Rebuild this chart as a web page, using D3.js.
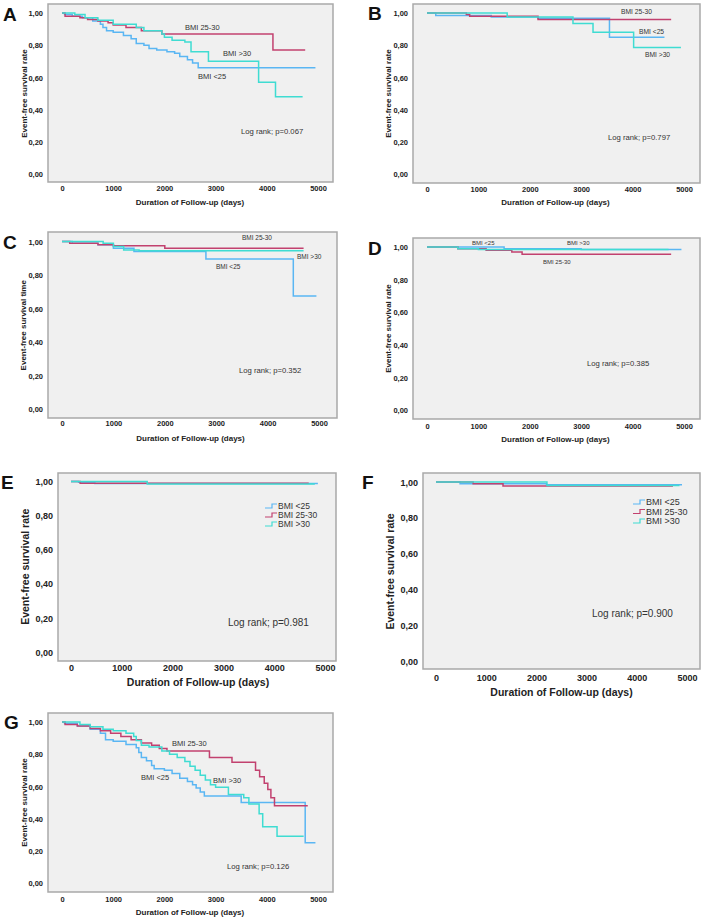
<!DOCTYPE html>
<html>
<head>
<meta charset="utf-8">
<script src="https://cdn.jsdelivr.net/npm/d3@7"></script>
<style>
  body { margin: 0; background: #fff; }
  svg { display: block; font-family: "Liberation Sans", Arial, sans-serif; }
</style>
</head>
<body>
<div id="chart"></div>
<script>
// tick values shared by every panel
const xTicks = [0, 1000, 2000, 3000, 4000, 5000];
const yTicks = [0, 0.2, 0.4, 0.6, 0.8, 1.0];
const groups = ["BMI <25", "BMI 25-30", "BMI >30"];
const groupColors = ["#5ab6f3", "#c2416f", "#3fdcd2"];

// [day, survival]; last point = end of follow-up (censored)
const aLow = [[0,1],[50,0.99],[200,0.98],[400,0.97],[600,0.95],[750,0.93],[800,0.91],[870,0.89],[1000,0.88],[1200,0.86],[1350,0.84],[1450,0.81],[1600,0.80],[1700,0.78],[1850,0.77],[2050,0.76],[2200,0.75],[2300,0.73],[2450,0.71],[2550,0.69],[2660,0.66],[4950,0.66]];
const aMid = [[0,1],[60,0.98],[350,0.97],[500,0.96],[700,0.95],[900,0.94],[1000,0.925],[1250,0.91],[1550,0.89],[1950,0.87],[4120,0.77],[4750,0.77]];
const aHigh = [[0,1],[250,0.99],[450,0.97],[700,0.955],[1000,0.93],[1450,0.91],[1600,0.89],[1950,0.87],[2000,0.85],[2150,0.83],[2400,0.82],[2520,0.76],[2860,0.70],[3840,0.57],[4170,0.48],[4700,0.48]];

const bLow = [[0,1],[170,0.985],[1250,0.975],[2160,0.967],[3550,0.85],[4620,0.85]];
const bMid = [[0,1],[765,0.99],[830,0.98],[2160,0.96],[4750,0.96]];
const bHigh = [[0,1],[1560,0.975],[2840,0.935],[3230,0.88],[4020,0.785],[4940,0.785]];

const cLow = [[0,1],[200,0.99],[700,0.98],[1000,0.96],[1400,0.94],[2800,0.895],[4500,0.675],[4950,0.675]];
const cMid = [[0,1],[150,0.99],[700,0.98],[1000,0.975],[2000,0.96],[4700,0.96]];
const cHigh = [[0,1],[800,0.99],[1000,0.97],[1200,0.95],[1500,0.945],[4700,0.945]];

const dLow = [[0,1],[1500,0.99],[3000,0.985],[4950,0.985]];
const dMid = [[0,1],[600,0.99],[1150,0.98],[1650,0.97],[1850,0.955],[4750,0.955]];
const dHigh = [[0,1],[600,0.99],[1000,0.985],[4700,0.985]];

const eLow = [[0,1],[150,0.995],[470,0.988],[4860,0.988]];
const eMid = [[0,1],[180,0.99],[4680,0.99]];
const eHigh = [[0,1],[1500,0.985],[4800,0.985]];

const fLow = [[0,1],[480,0.99],[2200,0.985],[4900,0.985]];
const fMid = [[0,1],[740,0.99],[1335,0.978],[4720,0.978]];
const fHigh = [[0,1],[2210,0.98],[4850,0.98]];

const gLow = [[0,1],[50,0.99],[300,0.975],[550,0.955],[750,0.93],[850,0.89],[1000,0.88],[1250,0.86],[1450,0.84],[1500,0.81],[1550,0.78],[1650,0.76],[1750,0.73],[1800,0.71],[2000,0.70],[2150,0.68],[2300,0.65],[2450,0.63],[2550,0.61],[2620,0.59],[2700,0.565],[2780,0.54],[3500,0.50],[4750,0.25],[4950,0.25]];
const gMid = [[0,1],[60,0.985],[300,0.975],[550,0.96],[750,0.945],[950,0.93],[1150,0.91],[1350,0.89],[1550,0.87],[1750,0.855],[1900,0.835],[2050,0.82],[2880,0.78],[3320,0.75],[3780,0.70],[3860,0.66],[3950,0.62],[4020,0.58],[4080,0.53],[4150,0.48],[4800,0.48]];
const gHigh = [[0,1],[350,0.985],[550,0.97],[800,0.955],[1000,0.945],[1250,0.93],[1400,0.91],[1450,0.885],[1550,0.855],[1700,0.845],[1950,0.82],[2100,0.80],[2250,0.78],[2400,0.755],[2500,0.725],[2600,0.70],[2700,0.67],[2800,0.64],[2900,0.61],[3000,0.595],[3250,0.55],[3550,0.53],[3650,0.49],[3850,0.43],[3920,0.35],[4200,0.29],[4720,0.29]];

const pValues = ["0.067", "0.797", "0.352", "0.385", "0.981", "0.900", "0.126"];
const xTitle = "Duration of Follow-up (days)";
const yTitleRate = "Event-free survival rate";
const yTitleTime = "Event-free survival time";

// panel layout (pixel positions only)
const panels = [
  { letter: "A", series: [aLow, aMid, aHigh], p: pValues[0], yTitle: yTitleRate,
    frame: [48, 4, 333, 182], xr: [62, 318], yr: [174, 13], tickY: 191, titleY: 205, yTitleX: 24,
    fs: 7.5, tfs: 8, lfs: 7.5, letterPos: [3, 21],
    labels: [[1, 185, 27], [2, 223, 53], [0, 198, 76]], logrank: [241, 131, 7.7] },
  { letter: "B", series: [bLow, bMid, bHigh], p: pValues[1], yTitle: yTitleRate,
    frame: [413, 4, 700, 183], xr: [427, 684], yr: [174, 13], tickY: 192, titleY: 205, yTitleX: 388,
    fs: 7.5, tfs: 8, lfs: 6.7, letterPos: [368, 20],
    labels: [[1, 621, 12], [0, 639, 32], [2, 645, 55]], logrank: [608, 137, 7.7] },
  { letter: "C", series: [cLow, cMid, cHigh], p: pValues[2], yTitle: yTitleTime,
    frame: [48, 232, 337, 418], xr: [62, 319], yr: [409, 241.5], tickY: 426, titleY: 441, yTitleX: 23,
    fs: 7.5, tfs: 8, lfs: 6.5, letterPos: [3, 249],
    labels: [[1, 242, 238], [2, 297, 257], [0, 216, 267]], logrank: [239, 370, 7.7] },
  { letter: "D", series: [dLow, dMid, dHigh], p: pValues[3], yTitle: yTitleRate,
    frame: [413, 238, 700, 419], xr: [427, 684], yr: [410, 247], tickY: 429, titleY: 442, yTitleX: 388,
    fs: 7.5, tfs: 8, lfs: 6, letterPos: [368, 255],
    labels: [[0, 472, 243], [2, 567, 243], [1, 543, 262]], logrank: [587, 363, 7.7] },
  { letter: "E", series: [eLow, eMid, eHigh], p: pValues[4], yTitle: yTitleRate,
    frame: [58, 473, 336, 661], xr: [71, 325], yr: [652, 481.5], tickY: 671, titleY: 686, yTitleX: 25,
    fs: 9, tfs: 10.5, lfs: 8.5, letterPos: [1, 489],
    legend: [265, 506, 9], logrank: [228, 622, 10] },
  { letter: "F", series: [fLow, fMid, fHigh], p: pValues[5], yTitle: yTitleRate,
    frame: [423, 473, 700, 669], xr: [436, 687], yr: [661, 482], tickY: 681, titleY: 696, yTitleX: 390,
    fs: 9, tfs: 10.5, lfs: 9, letterPos: [362, 489],
    legend: [633, 502, 9.5], logrank: [592, 613, 10] },
  { letter: "G", series: [gLow, gMid, gHigh], p: pValues[6], yTitle: yTitleRate,
    frame: [48, 713, 333, 892], xr: [62, 318], yr: [883, 722], tickY: 902, titleY: 915, yTitleX: 24,
    fs: 7.5, tfs: 8, lfs: 7.5, letterPos: [4, 729],
    labels: [[1, 172, 743], [0, 141, 777], [2, 213, 780]], logrank: [227, 866, 7.7] }
];

const svg = d3.select("#chart").append("svg")
  .attr("width", 702).attr("height", 918);

const fmtY = d => d3.format(".2f")(d).replace(".", ",");

panels.forEach(pn => {
  const g = svg.append("g");
  const [fx0, fy0, fx1, fy1] = pn.frame;
  const x = d3.scaleLinear().domain([0, 5000]).range(pn.xr);
  const y = d3.scaleLinear().domain([0, 1]).range(pn.yr);

  g.append("rect")
    .attr("x", fx0).attr("y", fy0)
    .attr("width", fx1 - fx0).attr("height", fy1 - fy0)
    .attr("fill", "#f0f0f0").attr("stroke", "#a9a9a9").attr("stroke-width", 1.5);

  // axes without lines or tick marks, just labels
  const xa = g.append("g").attr("transform", `translate(0,${pn.tickY})`)
    .call(d3.axisBottom(x).tickValues(xTicks).tickSize(0).tickPadding(0).tickFormat(d3.format("d")));
  xa.select(".domain").remove();
  xa.selectAll("text").attr("dy", 0).attr("y", 0)
    .attr("font-size", pn.fs).attr("font-weight", "bold").attr("fill", "#222")
    .attr("font-family", "Liberation Sans, Arial, sans-serif");

  const ya = g.append("g").attr("transform", `translate(${fx0 - 5},0)`)
    .call(d3.axisLeft(y).tickValues(yTicks).tickSize(0).tickPadding(0).tickFormat(fmtY));
  ya.select(".domain").remove();
  ya.selectAll("text").attr("x", 0).attr("dy", "0.35em")
    .attr("font-size", pn.fs).attr("font-weight", "bold").attr("fill", "#222")
    .attr("font-family", "Liberation Sans, Arial, sans-serif");

  g.append("text")
    .attr("x", (pn.xr[0] + pn.xr[1]) / 2).attr("y", pn.titleY)
    .attr("text-anchor", "middle").attr("font-size", pn.tfs).attr("font-weight", "bold").attr("fill", "#222")
    .text(xTitle);

  g.append("text")
    .attr("transform", `translate(${pn.yTitleX},${(pn.yr[0] + pn.yr[1]) / 2}) rotate(-90)`)
    .attr("text-anchor", "middle").attr("dy", "0.35em")
    .attr("font-size", pn.tfs).attr("font-weight", "bold").attr("fill", "#222")
    .text(pn.yTitle);

  g.append("text")
    .attr("x", pn.letterPos[0]).attr("y", pn.letterPos[1])
    .attr("font-size", 19).attr("font-weight", "bold").attr("fill", "#111")
    .text(pn.letter);

  const line = d3.line().x(d => x(d[0])).y(d => y(d[1])).curve(d3.curveStepAfter);
  pn.series.forEach((s, i) => {
    g.append("path").datum(s)
      .attr("d", line)
      .attr("fill", "none").attr("stroke", groupColors[i]).attr("stroke-width", 1.5);
  });

  if (pn.labels) {
    pn.labels.forEach(([gi, lx, ly]) => {
      g.append("text").attr("x", lx).attr("y", ly).attr("dy", "0.35em")
        .attr("font-size", pn.lfs).attr("fill", "#333").text(groups[gi]);
    });
  }

  if (pn.legend) {
    const [lx, ly, step] = pn.legend;
    groups.forEach((name, i) => {
      const cy = ly + i * step;
      g.append("path")
        .attr("d", `M${lx},${cy + 2}H${lx + 7}V${cy - 2}H${lx + 12}`)
        .attr("fill", "none").attr("stroke", groupColors[i]).attr("stroke-width", 1.2);
      g.append("text").attr("x", lx + 13).attr("y", cy).attr("dy", "0.35em")
        .attr("font-size", pn.lfs).attr("fill", "#333").text(name);
    });
  }

  g.append("text")
    .attr("x", pn.logrank[0]).attr("y", pn.logrank[1]).attr("dy", "0.35em")
    .attr("font-size", pn.logrank[2]).attr("fill", "#333")
    .text("Log rank; p=" + pn.p);
});
</script>
</body>
</html>
